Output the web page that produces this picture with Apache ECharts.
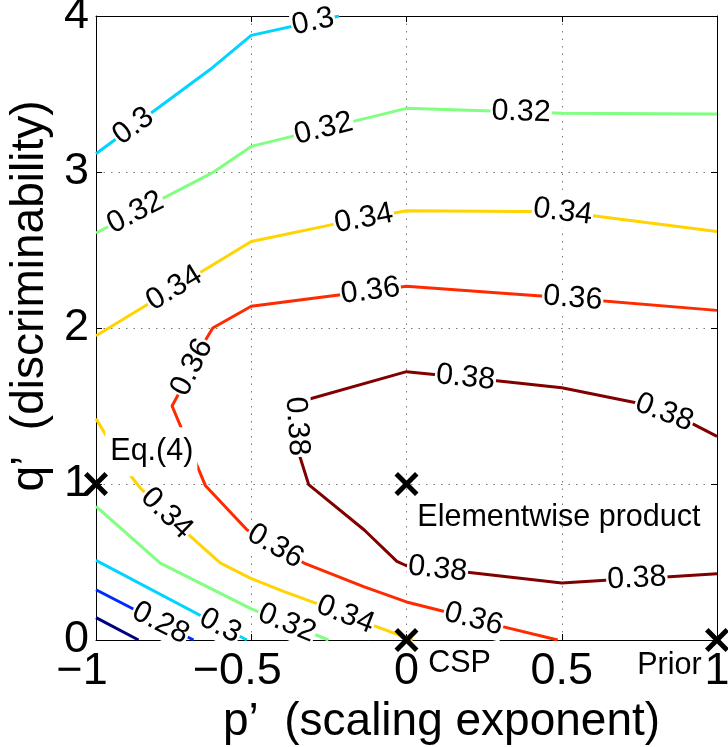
<!DOCTYPE html>
<html>
<head>
<meta charset="utf-8">
<script src="https://cdn.jsdelivr.net/npm/echarts@6/dist/echarts.min.js"></script>
<style>
  html, body { margin: 0; padding: 0; background: #fff; }
  #main { width: 728px; height: 747px; }
</style>
</head>
<body>
<div id="main"></div>
<script>
// axis ticks
var xTicks = [-1, -0.5, 0, 0.5, 1];
var yTicks = [0, 1, 2, 3, 4];

// contour levels and their colours (jet)
var levels = [0.26, 0.28, 0.30, 0.32, 0.34, 0.36, 0.38];
var levelColors = ['#000080', '#002aff', '#00d4ff', '#80ff80', '#ffd400', '#ff2a00', '#800000'];

// contour lines, [p', q'] points
var c026 = [[-1, 0.143], [-0.863, 0]];
var c028 = [[-1, 0.322], [-0.686, 0]];
var c030top = [[-1, 3.117], [-0.626, 3.667], [-0.5, 3.876], [-0.217, 4.0]];
var c030low = [[-1, 0.51], [-0.514, 0]];
var c032top = [[-1, 2.609], [-0.626, 2.994], [-0.5, 3.164], [0, 3.408], [0.5, 3.376], [1, 3.372]];
var c032low = [[-1, 0.857], [-0.793, 0.493], [-0.5, 0.2], [-0.251, 0]];
var c034top = [[-1, 1.95], [-0.5, 2.555], [-0.224, 2.669], [0, 2.752], [0.5, 2.745], [1, 2.619]];
var c034low = [[-1, 1.419], [-0.895, 1.069], [-0.857, 0.974], [-0.702, 0.675], [-0.6, 0.494],
               [-0.503, 0.397], [-0.396, 0.312], [-0.288, 0.233], [-0.136, 0.115], [0.02, 0]];
var c036 = [[0.487, 0], [0.293, 0.094], [0.138, 0.175], [0, 0.244], [-0.136, 0.34], [-0.326, 0.489],
            [-0.514, 0.707], [-0.648, 0.991], [-0.696, 1.22], [-0.755, 1.5], [-0.728, 1.6],
            [-0.648, 1.92], [-0.624, 2.0], [-0.5, 2.139], [0, 2.267], [0.5, 2.196], [1, 2.113]];
var c038 = [[1, 1.305], [0.911, 1.397], [0.755, 1.515], [0.5, 1.617], [0.283, 1.664], [0, 1.72],
            [-0.358, 1.519], [-0.348, 1.205], [-0.315, 0.996], [-0.136, 0.705], [-0.031, 0.504],
            [0, 0.476], [0.189, 0.436], [0.5, 0.365], [0.667, 0.386], [0.834, 0.404], [1, 0.425]];

var contours = [
  { level: 0.26, pts: c026 }, { level: 0.28, pts: c028 },
  { level: 0.30, pts: c030top }, { level: 0.30, pts: c030low },
  { level: 0.32, pts: c032top }, { level: 0.32, pts: c032low },
  { level: 0.34, pts: c034top }, { level: 0.34, pts: c034low },
  { level: 0.36, pts: c036 }, { level: 0.38, pts: c038 }
];

// inline contour labels: level and approximate place on the line
var labelLevel = [0.28, 0.30, 0.30, 0.30, 0.32, 0.32, 0.32, 0.32, 0.34, 0.34, 0.34, 0.34, 0.34,
                  0.36, 0.36, 0.36, 0.36, 0.36, 0.38, 0.38, 0.38, 0.38, 0.38];
var labelX = [-0.793, -0.879, -0.299, -0.6, -0.873, -0.267, 0.369, -0.385, -0.75, -0.138, 0.503, -0.771, -0.197,
              -0.693, -0.116, 0.535, -0.42, 0.216, -0.353, 0.19, 0.83, 0.1, 0.742];
var labelY = [0.105, 3.292, 3.944, 0.09, 2.74, 3.278, 3.38, 0.11, 2.26, 2.705, 2.745, 0.815, 0.162,
              1.75, 2.237, 2.18, 0.61, 0.134, 1.37, 1.682, 1.458, 0.455, 0.39];

// marked settings and their captions
var markX = [-1, 0, 0, 1];
var markY = [1, 1, 0, 0];
var noteText = ['Eq.(4)', 'Elementwise product', 'CSP', 'Prior'];
var noteX = [-0.97, 0.035, 0.07, 0.743];
var noteY = [1.207, 0.784, -0.152, -0.165];

var FONT = 'Liberation Sans, Arial, Helvetica, sans-serif';
var crossPath = 'path://M0,3.5L3.5,0L12,8.5L20.5,0L24,3.5L15.5,12L24,20.5L20.5,24L12,15.5L3.5,24L0,20.5L8.5,12Z';

function fmtX(v) {
  if (v < 0) return '{n|\u2212' + String(-v) + '}';
  return String(v);
}

var chart = echarts.init(document.getElementById('main'), null, { renderer: 'canvas' });

var series = [];
contours.forEach(function (c) {
  series.push({
    type: 'line',
    data: c.pts,
    showSymbol: false,
    symbol: 'none',
    silent: true,
    z: 2,
    lineStyle: { color: levelColors[levels.indexOf(c.level)], width: 3, opacity: 1 }
  });
});

var option = {
  animation: false,
  backgroundColor: '#fff',
  grid: { left: 96, top: 16, right: 11, bottom: 107, containLabel: false, outerBoundsMode: 'none' },
  xAxis: [{
    type: 'value', min: -1, max: 1, interval: 0.5, position: 'bottom',
    axisLine: { show: true, onZero: false, lineStyle: { color: '#000', width: 1 } },
    axisTick: { show: true, inside: true, length: 6, lineStyle: { color: '#000' } },
    splitLine: { show: true, lineStyle: { color: '#777', width: 1, type: [1.5, 6] } },
    axisLabel: {
      fontSize: 45, color: '#000', fontFamily: FONT, margin: 9, formatter: fmtX,
      rich: { n: { fontSize: 45, color: '#000', fontFamily: FONT, padding: [0, 28, 0, 0] } }
    },
    name: 'p\u2019  (scaling exponent)', nameLocation: 'middle', nameGap: 50,
    nameTextStyle: { fontSize: 46, color: '#000', fontFamily: FONT, padding: [0, 0, 0, 70] }
  }, {
    type: 'value', min: -1, max: 1, interval: 0.5, position: 'top',
    axisLine: { show: true, onZero: false, lineStyle: { color: '#000', width: 1 } },
    axisTick: { show: true, inside: true, length: 6, lineStyle: { color: '#000' } },
    splitLine: { show: false }, axisLabel: { show: false }
  }],
  yAxis: [{
    type: 'value', min: 0, max: 4, interval: 1, position: 'left',
    axisLine: { show: true, onZero: false, lineStyle: { color: '#000', width: 1 } },
    axisTick: { show: true, inside: true, length: 6, lineStyle: { color: '#000' } },
    splitLine: { show: true, lineStyle: { color: '#777', width: 1, type: [1.5, 6] } },
    axisLabel: { fontSize: 45, color: '#000', fontFamily: FONT, margin: 7 },
    name: 'q\u2019  (discriminability)', nameLocation: 'middle', nameGap: 40, nameRotate: 90,
    nameTextStyle: { fontSize: 46, color: '#000', fontFamily: FONT, padding: [0, 0, 0, 64] }
  }, {
    type: 'value', min: 0, max: 4, interval: 1, position: 'right',
    axisLine: { show: true, onZero: false, lineStyle: { color: '#000', width: 1 } },
    axisTick: { show: true, inside: true, length: 6, lineStyle: { color: '#000' } },
    splitLine: { show: false }, axisLabel: { show: false }
  }],
  series: series
};
chart.setOption(option);

// place each contour label on its line and turn it along the line
function px(p) { return chart.convertToPixel({ xAxisIndex: 0, yAxisIndex: 0 }, p); }
var labelData = [];
for (var i = 0; i < labelLevel.length; i++) {
  var p = px([labelX[i], labelY[i]]);
  var best = null;
  contours.forEach(function (c) {
    if (c.level !== labelLevel[i]) return;
    for (var k = 0; k < c.pts.length - 1; k++) {
      var a = px(c.pts[k]), b = px(c.pts[k + 1]);
      var dx = b[0] - a[0], dy = b[1] - a[1];
      var t = ((p[0] - a[0]) * dx + (p[1] - a[1]) * dy) / (dx * dx + dy * dy);
      t = Math.max(0, Math.min(1, t));
      var q = [a[0] + t * dx, a[1] + t * dy];
      var d = Math.hypot(q[0] - p[0], q[1] - p[1]);
      if (!best || d < best.d) {
        var ang = Math.atan2(-dy, dx) * 180 / Math.PI;
        if (ang > 90) ang -= 180;
        if (ang < -90) ang += 180;
        best = { d: d, q: q, ang: ang };
      }
    }
  });
  var v = chart.convertFromPixel({ xAxisIndex: 0, yAxisIndex: 0 }, best.q);
  labelData.push({
    value: v,
    label: { rotate: best.ang, formatter: String(labelLevel[i]) }
  });
}

series.push({
  type: 'scatter',
  data: labelData,
  symbolSize: 0,
  silent: true,
  clip: false,
  z: 3,
  itemStyle: { opacity: 1 },
  label: {
    show: true, position: 'inside', fontSize: 30.5, color: '#000', fontFamily: FONT,
    backgroundColor: '#fff', padding: [0, 1], opacity: 1
  }
});

var noteData = noteText.map(function (t, i) {
  var d = { value: [noteX[i], noteY[i]], label: { formatter: t } };
  if (t === 'Eq.(4)') {
    d.label.backgroundColor = '#fff';
    d.label.padding = [10, 4, 8, 5];
  }
  return d;
});
series.push({
  type: 'scatter',
  data: noteData,
  symbolSize: 0,
  silent: true,
  clip: false,
  z: 4,
  itemStyle: { opacity: 1 },
  label: { show: true, position: 'right', distance: 0, fontSize: 30.5, color: '#000', fontFamily: FONT, opacity: 1 }
});

series.push({
  type: 'scatter',
  data: markX.map(function (x, i) { return [x, markY[i]]; }),
  symbol: crossPath,
  symbolSize: 24,
  silent: true,
  clip: false,
  z: 5,
  itemStyle: { color: '#000', opacity: 1 }
});

chart.setOption({ series: series });
</script>
</body>
</html>
